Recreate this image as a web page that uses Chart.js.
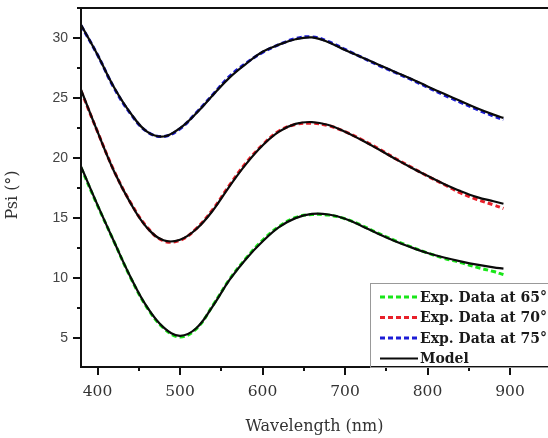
<!DOCTYPE html>
<html>
<head>
<meta charset="utf-8">
<title>Psi spectra</title>
<script src="https://cdn.jsdelivr.net/npm/chart.js@4.4.0/dist/chart.umd.min.js"></script>
<style>
  html, body { margin: 0; padding: 0; background: #fff; }
  #wrap { position: relative; width: 548px; height: 438px; }
</style>
</head>
<body>
<div id="wrap"><canvas id="psiChart"></canvas></div>
<script>
// Ellipsometric Psi spectra at three angles of incidence, with the fitted model
const wavelength = [380, 400, 420, 440, 460, 480, 500, 520, 540, 560, 580, 600, 620, 640,
  660, 680, 700, 720, 740, 760, 780, 800, 820, 840, 860, 880, 892];

const exp65 = [19.2, 16.05, 13.05, 10.05, 7.55, 5.85, 5.1, 5.8, 7.75, 9.9, 11.65, 13.15, 14.3, 15.05,
  15.3, 15.25, 14.95, 14.4, 13.75, 13.15, 12.6, 12.1, 11.65, 11.3, 10.9, 10.55, 10.3];
const exp70 = [25.6, 22.2, 18.95, 16.3, 14.25, 13.1, 13.15, 14.15, 15.75, 17.75, 19.6, 21.1, 22.25, 22.8,
  22.9, 22.7, 22.2, 21.55, 20.8, 20.0, 19.25, 18.5, 17.8, 17.1, 16.55, 16.1, 15.8];
const exp75 = [31.05, 28.6, 25.85, 23.7, 22.2, 21.8, 22.45, 23.8, 25.3, 26.8, 27.9, 28.8, 29.45, 29.95,
  30.1, 29.7, 29.05, 28.4, 27.75, 27.15, 26.55, 25.9, 25.25, 24.65, 24.05, 23.5, 23.2];

const model65 = [19.3, 16.1, 13.05, 10.1, 7.6, 5.9, 5.2, 5.85, 7.7, 9.85, 11.6, 13.05, 14.25, 15.0,
  15.35, 15.3, 14.95, 14.35, 13.7, 13.1, 12.57, 12.1, 11.72, 11.4, 11.12, 10.9, 10.8];
const model70 = [25.7, 22.2, 18.9, 16.25, 14.2, 13.15, 13.2, 14.1, 15.65, 17.65, 19.5, 21.05, 22.2, 22.85,
  23.0, 22.75, 22.2, 21.5, 20.75, 19.97, 19.22, 18.52, 17.85, 17.25, 16.75, 16.4, 16.2];
const model75 = [31.1, 28.6, 25.9, 23.75, 22.2, 21.8, 22.5, 23.75, 25.25, 26.7, 27.85, 28.85, 29.45, 29.9,
  30.05, 29.65, 29.0, 28.4, 27.8, 27.2, 26.6, 25.97, 25.35, 24.75, 24.15, 23.62, 23.35];

const legendLabels = ['Exp. Data at 65°', 'Exp. Data at 70°', 'Exp. Data at 75°', 'Model'];
const xTicks = [400, 500, 600, 700, 800, 900];
const yTicks = [5, 10, 15, 20, 25, 30];

const GREEN = '#19e619', RED = '#e8202a', BLUE = '#1c1cd6', BLACK = '#0a0a0a';
const DASH = [5, 3];

const points = ys => ys.map((y, i) => ({ x: wavelength[i], y }));

const modelStyle = { borderColor: BLACK, borderWidth: 2.2, pointRadius: 0, fill: false, tension: 0.4 };
const expStyle = c => ({ borderColor: c, borderWidth: 3, borderDash: DASH, pointRadius: 0, fill: false, tension: 0.4 });

// axes frame, minor ticks, titles and the boxed legend are drawn by hand
const frame = {
  id: 'frame',
  afterDraw(chart) {
    const { ctx, chartArea: a, scales: { x, y } } = chart;
    ctx.save();
    ctx.strokeStyle = '#111';
    ctx.lineWidth = 2;
    ctx.beginPath();
    ctx.moveTo(a.right, a.top); ctx.lineTo(a.left, a.top);
    ctx.lineTo(a.left, a.bottom); ctx.lineTo(a.right, a.bottom);
    for (let v = 5; v <= y.max; v += 2.5) {
      const py = Math.round(y.getPixelForValue(v));
      const len = v % 5 === 0 ? 8 : 4;
      ctx.moveTo(a.left - len, py); ctx.lineTo(a.left, py);
    }
    for (let v = 400; v <= x.max; v += 50) {
      const px = Math.round(x.getPixelForValue(v));
      const len = v % 100 === 0 ? 8 : 4;
      ctx.moveTo(px, a.bottom); ctx.lineTo(px, a.bottom + len);
    }
    ctx.stroke();

    // axis titles
    ctx.fillStyle = '#333';
    ctx.textAlign = 'center';
    ctx.textBaseline = 'middle';
    ctx.font = '16px "DejaVu Serif"';
    ctx.fillText('Wavelength (nm)', (a.left + a.right) / 2, 427);
    ctx.save();
    ctx.translate(13, 195);
    ctx.rotate(-Math.PI / 2);
    ctx.fillText('Psi (°)', 0, 0);
    ctx.restore();

    // legend box
    const bx = 370, by = 283;
    ctx.fillStyle = '#fff';
    ctx.fillRect(bx, by, a.right - bx + 2, a.bottom - by - 1);
    ctx.strokeStyle = '#999';
    ctx.lineWidth = 1;
    ctx.strokeRect(bx + 0.5, by + 0.5, a.right - bx + 4, a.bottom - by);
    const colors = [GREEN, RED, BLUE, BLACK];
    ctx.font = 'bold 14px "DejaVu Serif"';
    ctx.textAlign = 'left';
    legendLabels.forEach((label, i) => {
      const ry = 297 + i * 20.5;
      ctx.beginPath();
      ctx.strokeStyle = colors[i];
      ctx.lineWidth = i < 3 ? 3 : 2.2;
      ctx.setLineDash(i < 3 ? DASH : []);
      ctx.moveTo(380, ry); ctx.lineTo(418, ry);
      ctx.stroke();
      ctx.setLineDash([]);
      ctx.fillStyle = '#1a1a1a';
      ctx.fillText(label, 420, ry + 1);
    });
    ctx.restore();
  }
};

new Chart(document.getElementById('psiChart'), {
  type: 'line',
  data: {
    datasets: [
      { label: 'Model 65', data: points(model65), ...modelStyle },
      { label: 'Model 70', data: points(model70), ...modelStyle },
      { label: 'Model 75', data: points(model75), ...modelStyle },
      { label: legendLabels[0], data: points(exp65), ...expStyle(GREEN) },
      { label: legendLabels[1], data: points(exp70), ...expStyle(RED) },
      { label: legendLabels[2], data: points(exp75), ...expStyle(BLUE) }
    ]
  },
  options: {
    responsive: true,
    maintainAspectRatio: false,
    animation: false,
    layout: { padding: { top: 8, left: 0, right: 0, bottom: 0 } },
    plugins: { legend: { display: false }, tooltip: { enabled: false } },
    scales: {
      x: {
        type: 'linear',
        min: 380,
        max: 946,
        afterBuildTicks: s => { s.ticks = xTicks.map(v => ({ value: v })); },
        afterFit: s => { s.height = 71; s.paddingLeft = 0; s.paddingRight = 0; },
        grid: { display: false, drawTicks: false },
        border: { display: false },
        ticks: { font: { family: 'DejaVu Serif', size: 15.5 }, color: '#333', padding: 16, maxRotation: 0 }
      },
      y: {
        min: 2.6,
        max: 32.5,
        afterBuildTicks: s => { s.ticks = yTicks.map(v => ({ value: v })); },
        afterFit: s => { s.width = 81; s.paddingTop = 0; s.paddingBottom = 0; },
        grid: { display: false, drawTicks: false },
        border: { display: false },
        ticks: { font: { family: 'Liberation Sans', size: 14 }, color: '#444', padding: 13 }
      }
    }
  },
  plugins: [frame]
});
</script>
</body>
</html>
